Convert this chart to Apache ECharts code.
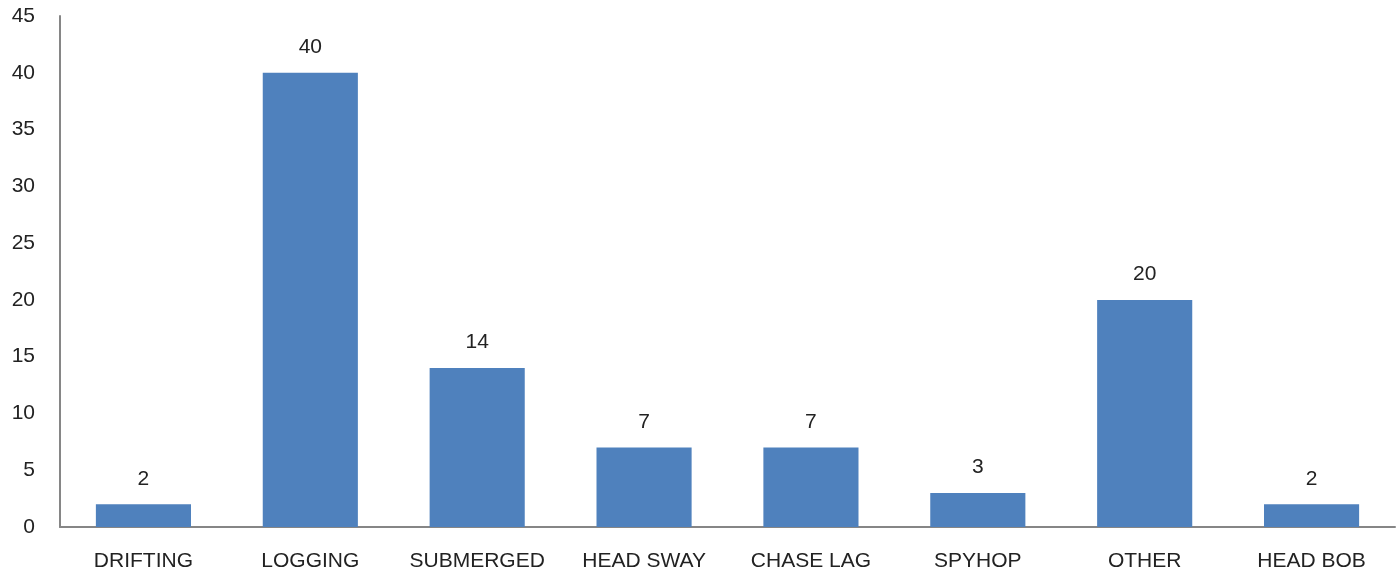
<!DOCTYPE html>
<html><head><meta charset="utf-8">
<script src="https://cdn.jsdelivr.net/npm/echarts@6/dist/echarts.min.js"></script>
<style>html,body{margin:0;padding:0;background:#fff}#c{width:1397px;height:577px}</style>
</head><body><div id="c"></div>
<script>
const categories = ['DRIFTING','LOGGING','SUBMERGED','HEAD SWAY','CHASE LAG','SPYHOP','OTHER','HEAD BOB'];
const values = [2,40,14,7,7,3,20,2];
const chart = echarts.init(document.getElementById('c'));
const font = 'Liberation Sans, Arial, sans-serif';
chart.setOption({
  animation:false,
  grid:{left:60,right:2,top:16,bottom:50,containLabel:false},
  xAxis:{type:'category',data:categories,
    axisLine:{lineStyle:{color:'#868686',width:2}},
    axisTick:{show:false},
    axisLabel:{color:'#222',fontSize:21,fontFamily:font,margin:24,interval:0}},
  yAxis:{type:'value',min:0,max:45,interval:5,
    axisLine:{show:true,lineStyle:{color:'#868686',width:2}},
    axisTick:{show:false},splitLine:{show:false},
    axisLabel:{color:'#222',fontSize:21,fontFamily:font,margin:25}},
  series:[{type:'bar',data:values,barCategoryGap:'43%',
    itemStyle:{color:'#4F81BD'},
    label:{show:true,position:'top',distance:15,color:'#222',fontSize:21,fontFamily:font}}]
});
</script></body></html>
